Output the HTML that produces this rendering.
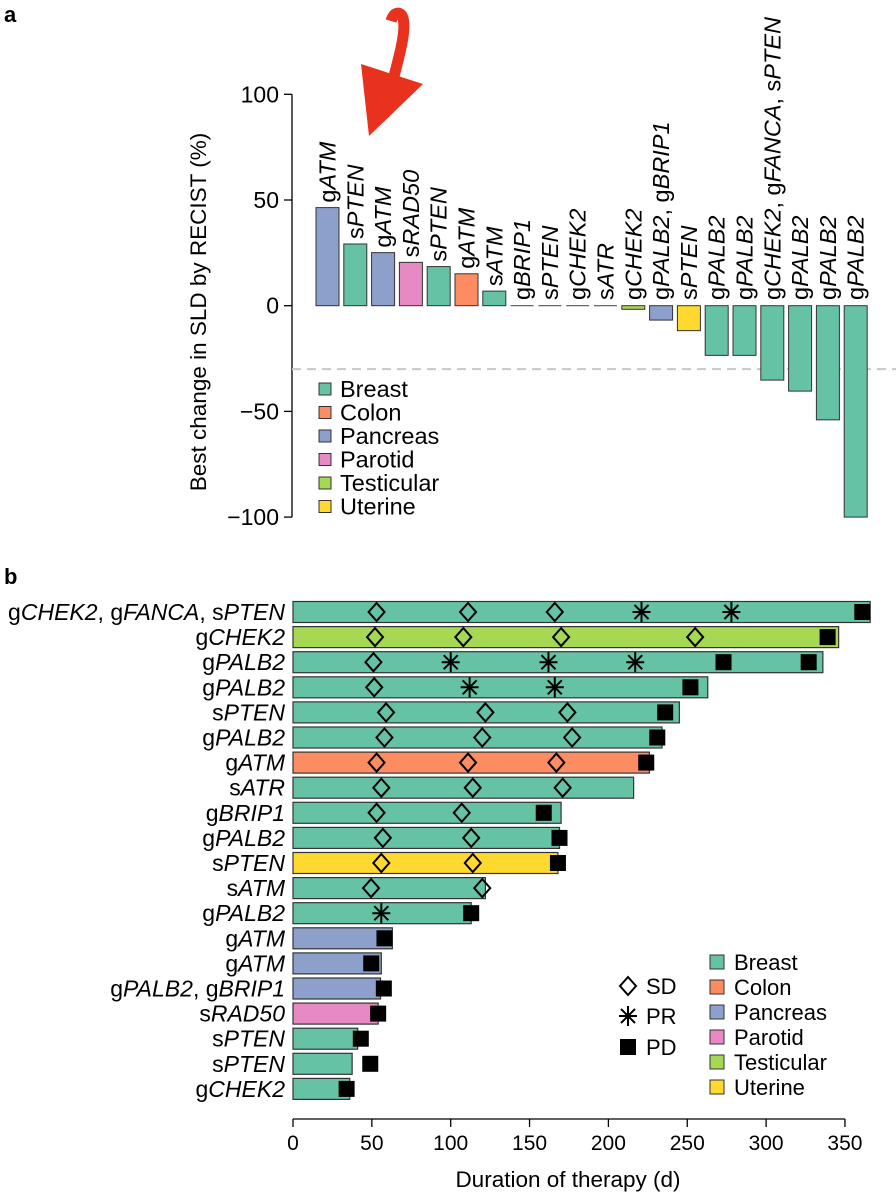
<!DOCTYPE html>
<html><head><meta charset="utf-8"><style>
body{margin:0;background:#fff}
svg{display:block;font-family:"Liberation Sans",sans-serif}
</style></head><body>
<svg id="fig" width="896" height="1200" viewBox="0 0 896 1200">
<text x="4" y="22" font-size="22" font-weight="bold">a</text>
<text x="4" y="584" font-size="22" font-weight="bold">b</text>
<g>
<path d="M393 80 C 401 50, 406 30, 403 18 C 401 11, 394 11, 391 21" stroke="#e8321e" stroke-width="11" fill="none"/>
<polygon points="361,64 423,84 369,136" fill="#e8321e"/>
</g>
<g id="pa"></g>
<g id="pb"></g>
</svg>
<script>
const NS="http://www.w3.org/2000/svg";
const colors={B:"#66c2a5",C:"#fc8d62",P:"#8da0cb",R:"#e78ac3",T:"#a6d854",U:"#ffd92f"};
const legendNames=["Breast","Colon","Pancreas","Parotid","Testicular","Uterine"];
const legendKeys=["B","C","P","R","T","U"];
// Panel a data
const aLabels=[["g","ATM"],["s","PTEN"],["g","ATM"],["s","RAD50"],["s","PTEN"],["g","ATM"],["s","ATM"],["g","BRIP1"],["s","PTEN"],["g","CHEK2"],["s","ATR"],["g","CHEK2"],["g","PALB2",", g","BRIP1"],["s","PTEN"],["g","PALB2"],["g","PALB2"],["g","CHEK2",", g","FANCA",", s","PTEN"],["g","PALB2"],["g","PALB2"],["g","PALB2"]];
const aValues=[46.4,29.2,25.1,20.5,18.5,15.1,6.9,0,0,0,0,-1.7,-6.8,-11.8,-23.5,-23.5,-35.2,-40.4,-54,-100];
const aTypes=["P","B","P","R","B","C","B","B","B","B","B","T","P","U","B","B","B","B","B","B"];
const aTicks=[100,50,0,-50,-100];
const aTickLabels=["100","50","0","\u221250","\u2212100"];
// Panel b data
const bLabels=[["g","CHEK2",", g","FANCA",", s","PTEN"],["g","CHEK2"],["g","PALB2"],["g","PALB2"],["s","PTEN"],["g","PALB2"],["g","ATM"],["s","ATR"],["g","BRIP1"],["g","PALB2"],["s","PTEN"],["s","ATM"],["g","PALB2"],["g","ATM"],["g","ATM"],["g","PALB2",", g","BRIP1"],["s","RAD50"],["s","PTEN"],["s","PTEN"],["g","CHEK2"]];
const bDurations=[366,346,336,263,245,234,226,216,170,169,168,122,113,63,56,55.5,54,41,37.5,36];
const bTypes=["B","T","B","B","B","B","C","B","B","B","U","B","B","P","P","P","R","B","B","B"];
const bSD=[[53,111,166],[52,108,170,255],[51],[51.5],[59,122,174],[58,120,177],[53,111,167],[56,114,171],[53,107],[57,113],[56,114],[49.5,120],[],[],[],[],[],[],[],[]];
const bPR=[[221,278],[],[100,162,217],[112,166],[],[],[],[],[],[],[],[],[56],[],[],[],[],[],[],[]];
const bPD=[[361],[339],[273,327],[252],[236],[231],[224],[],[159],[169],[168],[],[113],[58],[49.6],[57.6],[54],[43],[49],[34]];
const bTicks=[0,50,100,150,200,250,300,350];

function el(tag,attrs,parent){const e=document.createElementNS(NS,tag);for(const k in attrs)e.setAttribute(k,attrs[k]);parent.appendChild(e);return e;}
function richText(t,parts){parts.forEach((p,i)=>{const s=el("tspan",{},t);if(i%2===1)s.setAttribute("font-style","italic");s.textContent=p;});}

// ---- Panel a
const pa=document.getElementById("pa");
const ay=v=>305.7-v*2.114;
const ax=i=>316+i*27.8;
const BW=23;
el("line",{x1:292,y1:ay(100),x2:292,y2:ay(-100),stroke:"#000","stroke-width":1.3},pa);
aTicks.forEach((t,i)=>{
  el("line",{x1:284,y1:ay(t),x2:292,y2:ay(t),stroke:"#000","stroke-width":1.3},pa);
  const tx=el("text",{x:279,y:ay(t)+8,"font-size":23,"text-anchor":"end"},pa);
  
  
  tx.textContent=aTickLabels[i];
});
const yt=el("text",{x:0,y:0,"font-size":22.5,"text-anchor":"middle",transform:"translate(206,312) rotate(-90)"},pa);


yt.textContent="Best change in SLD by RECIST (%)";
const dl=el("line",{x1:292,y1:ay(-30),x2:896,y2:ay(-30),stroke:"#c8c8c8","stroke-width":2,"stroke-dasharray":"9,6"},pa);


aValues.forEach((v,i)=>{
  const x=ax(i);
  let r;
  if(v===0){r=el("line",{x1:x,y1:ay(0),x2:x+BW,y2:ay(0),stroke:"#555","stroke-width":1.2},pa);}
  else{const y1=Math.min(ay(0),ay(v)),h=Math.abs(ay(v)-ay(0));
    r=el("rect",{x:x,y:y1,width:BW,height:h,fill:colors[aTypes[i]],stroke:"#333","stroke-width":1},pa);}
  
  
  const ly=v>0?ay(v)-5:300;
  const t=el("text",{x:0,y:0,"font-size":23.5,transform:`translate(${x+BW/2+8},${ly}) rotate(-90)`},pa);
  
  
  richText(t,aLabels[i]);
});
legendKeys.forEach((k,i)=>{
  const y=389+i*23.5;
  const s=el("rect",{x:319,y:y-6,width:12,height:12,fill:colors[k],stroke:"#333","stroke-width":1},pa);
  
  
  const t=el("text",{x:340,y:y+8,"font-size":23.5},pa);
  
  
  t.textContent=legendNames[i];
});

// ---- Panel b
const pb=document.getElementById("pb");
const bx=d=>293+d*1.577;
const by=i=>612+i*25.1;
const BH=21;
bDurations.forEach((d,i)=>{
  const y=by(i);
  const r=el("rect",{x:bx(0),y:y-BH/2,width:bx(d)-bx(0),height:BH,fill:colors[bTypes[i]],stroke:"#333","stroke-width":1.2},pb);
  
  
  const t=el("text",{x:285,y:y+8,"font-size":23,"text-anchor":"end"},pb);
  
  
  richText(t,bLabels[i]);
});
function diamond(x,y,p,name){const d=el("polygon",{points:`${x},${y-9} ${x+8},${y} ${x},${y+9} ${x-8},${y}`,fill:"none",stroke:"#000","stroke-width":2},p);
  
  }
function star(x,y,p,name){const g=el("g",{stroke:"#000","stroke-width":2},p);
  
  
  el("line",{x1:x,y1:y-10,x2:x,y2:y+10},g);el("line",{x1:x-9,y1:y,x2:x+9,y2:y},g);
  el("line",{x1:x-7,y1:y-7,x2:x+7,y2:y+7},g);el("line",{x1:x-7,y1:y+7,x2:x+7,y2:y-7},g);}
function sq(x,y,p,name){const s=el("rect",{x:x-8,y:y-8,width:16,height:16,fill:"#000"},p);
  
  }
bSD.forEach((a,i)=>a.forEach(d=>diamond(bx(d),by(i),pb,'sd-marker')));
bPR.forEach((a,i)=>a.forEach(d=>star(bx(d),by(i),pb,'pr-marker')));
bPD.forEach((a,i)=>a.forEach(d=>sq(bx(d),by(i),pb,'pd-marker')));
// x axis
el("line",{x1:bx(0),y1:1119,x2:bx(350),y2:1119,stroke:"#000","stroke-width":1.3},pb);
bTicks.forEach(t=>{
  el("line",{x1:bx(t),y1:1119,x2:bx(t),y2:1127,stroke:"#000","stroke-width":1.3},pb);
  const tx=el("text",{x:bx(t),y:1150,"font-size":21,"text-anchor":"middle"},pb);
  
  
  tx.textContent=t;
});
const xt=el("text",{x:568,y:1187,"font-size":22.5,"text-anchor":"middle"},pb);


xt.textContent="Duration of therapy (d)";
// marker legend
diamond(628,986,pb,'legend-sd-symbol');star(628,1016,pb,'legend-pr-symbol');sq(628,1047,pb,'legend-pd-symbol');
[["SD",986],["PR",1016],["PD",1047]].forEach(([s,y])=>{const t=el("text",{x:646,y:y+8,"font-size":22},pb);
  
  
  t.textContent=s;});
legendKeys.forEach((k,i)=>{
  const y=962+i*25;
  const s=el("rect",{x:710,y:y-7,width:14,height:14,fill:colors[k],stroke:"#333","stroke-width":1},pb);
  
  
  const t=el("text",{x:734,y:y+8,"font-size":22},pb);
  
  
  t.textContent=legendNames[i];
});
</script>
</body></html>
